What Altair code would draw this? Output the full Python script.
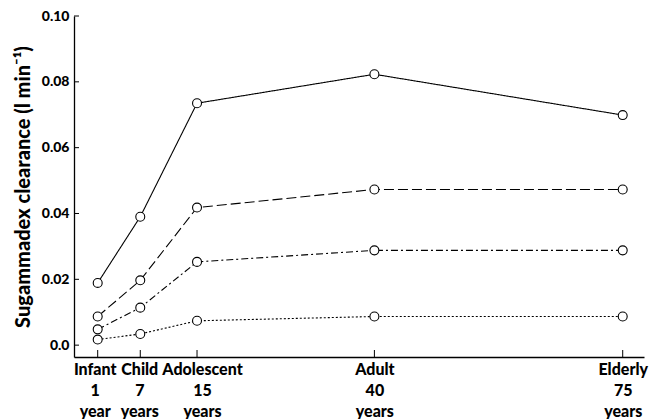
import altair as alt
import pandas as pd

# ---- data ----
stages = ["Infant", "Child", "Adolescent", "Adult", "Elderly"]
ages = [1, 7, 15, 40, 75]
age_text = ["1", "7", "15", "40", "75"]
age_units = ["year", "years", "years", "years", "years"]

series_names = ["Series 1", "Series 2", "Series 3", "Series 4"]
series_1 = [0.0189, 0.0390, 0.0735, 0.0823, 0.0699]   # solid
series_2 = [0.0087, 0.0197, 0.0418, 0.0473, 0.0473]   # long dash
series_3 = [0.0048, 0.0114, 0.0253, 0.0288, 0.0288]   # dash-dot
series_4 = [0.0017, 0.0034, 0.0074, 0.0087, 0.0087]   # dotted

y_ticks = [0.0, 0.02, 0.04, 0.06, 0.08, 0.10]

# ---- build table ----
rows = []
for name, vals in zip(series_names, [series_1, series_2, series_3, series_4]):
    for st, a, v in zip(stages, ages, vals):
        rows.append({"series": name, "stage": st, "age": a, "clearance": v})
df = pd.DataFrame(rows)
df_yt = pd.DataFrame({"clearance": y_ticks})
df_xt = pd.DataFrame({"age": ages})

W, H = 570, 341
YTICK = 5
XTICK = 7
FONT = "Lato"
WEIGHT = 900

x_scale = alt.Scale(domain=[-2.34, 78], nice=False, zero=False)
y_scale = alt.Scale(domain=[-0.0036, 0.10], nice=False, zero=False)

# multi-line x labels expression
expr = "''"
for a, st, t, u in reversed(list(zip(ages, stages, age_text, age_units))):
    expr = f"datum.value == {a} ? ['{st}', '{t}', '{u}'] : ({expr})"

x_label_offset = {
    "condition": [
        {"test": "datum.value == 1", "value": -3},
        {"test": "datum.value == 7", "value": -1},
        {"test": "datum.value == 15", "value": 5},
    ],
    "value": 0,
}

x_axis = alt.Axis(values=ages, labelExpr=expr, ticks=False, grid=False,
                  title=None, labelFont=FONT, labelFontWeight=WEIGHT,
                  labelFontSize=16, labelLineHeight=21, labelPadding=4,
                  labelOffset=x_label_offset,
                  labelColor="black", labelBaseline="top",
                  labelOverlap=False, labelBound=False, labelFlush=False,
                  domainColor="black", domainWidth=1.3)
y_axis = alt.Axis(values=y_ticks, ticks=False, grid=False,
                  labelExpr="datum.value == 0 ? '0.0' : format(datum.value, '.2f')",
                  title="Sugammadex clearance (l min⁻¹)",
                  titleFont=FONT, titleFontWeight=WEIGHT, titleFontSize=20,
                  titleColor="black", titlePadding=8,
                  labelFont=FONT, labelFontWeight=WEIGHT, labelFontSize=14,
                  labelOverlap=False, labelBound=False,
                  labelColor="black", labelPadding=5,
                  domainColor="black", domainWidth=1.3)

X = alt.X("age:Q", scale=x_scale, axis=x_axis)
Y = alt.Y("clearance:Q", scale=y_scale, axis=y_axis)

dashes = [[1, 0], [10, 4], [7, 3, 2, 3], [2, 2]]

lines = alt.Chart(df).mark_line(color="black", strokeWidth=1.1).encode(
    x=X, y=Y,
    strokeDash=alt.StrokeDash("series:N",
                              scale=alt.Scale(domain=series_names, range=dashes),
                              legend=None),
    detail="series:N",
)

points = alt.Chart(df).mark_point(shape="circle", filled=True, fill="white",
                                  stroke="black", strokeWidth=1.1, size=80,
                                  opacity=1).encode(x=X, y=Y)

y_tick_marks = alt.Chart(df_yt).mark_rule(color="black", strokeWidth=1).encode(
    y=Y,
    x=alt.value(0),
    x2=alt.value(YTICK),
)

x_tick_marks = alt.Chart(df_xt).mark_rule(color="black", strokeWidth=1).encode(
    x=X,
    y=alt.value(H - XTICK),
    y2=alt.value(H),
)

chart = alt.layer(lines, y_tick_marks, x_tick_marks, points).properties(
    width=W, height=H,
    autosize=alt.AutoSizeParams(type="none"),
    padding={"left": 66, "top": 8, "right": 6, "bottom": 62},
    background="white",
).configure_view(stroke=None)

chart.save("out.html", embed_options={"renderer": "svg", "actions": False})
